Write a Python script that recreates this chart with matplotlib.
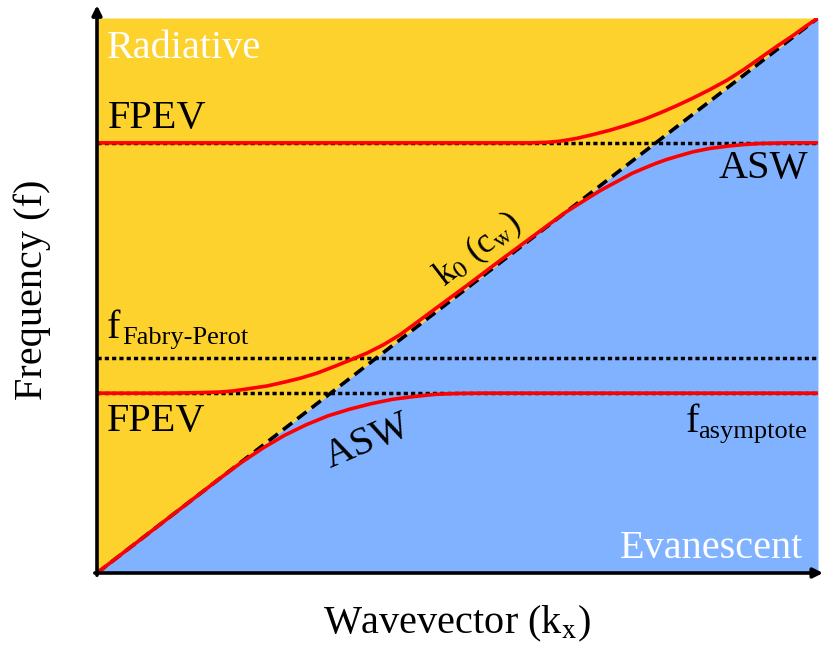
import matplotlib.pyplot as plt

plt.rcParams['font.family'] = ['Liberation Serif', 'DejaVu Serif']
plt.rcParams['mathtext.fontset'] = 'stix'

# light line k0 (c_w), normalised units
k_light = [0.0, 1.0]
f_light = [0.0, 1.0]

# horizontal reference levels
f_upper_cut = 0.775
f_fabry_perot = 0.387
f_asymptote = 0.324

# lower branch: follows the light line then saturates at f_asymptote (ASW)
asw_low_k = [0.0, 0.087, 0.143, 0.170, 0.200, 0.230, 0.260, 0.290, 0.320, 0.350, 0.380,
             0.410, 0.440, 0.470, 0.500, 0.530, 1.0]
asw_low_f = [0.0, 0.087, 0.143, 0.170, 0.199, 0.225, 0.248, 0.267, 0.283, 0.295, 0.305,
             0.313, 0.318, 0.322, 0.3235, 0.324, 0.324]

# middle branch: FPEV at f_asymptote, rides the light line, ends as upper ASW
mid_k = [0.0, 0.100, 0.143, 0.170, 0.189, 0.210, 0.236, 0.260, 0.282, 0.305, 0.327, 0.350,
         0.374, 0.397, 0.420, 0.443, 0.466, 0.512, 0.559, 0.605, 0.630, 0.650, 0.667, 0.683,
         0.698, 0.712, 0.725, 0.742, 0.760, 0.775, 0.790, 0.808, 0.827, 0.850, 0.874, 0.897,
         0.920, 0.961, 1.0]
mid_f = [0.324, 0.324, 0.325, 0.326, 0.328, 0.332, 0.337, 0.344, 0.351, 0.360, 0.371, 0.383,
         0.396, 0.411, 0.429, 0.451, 0.473, 0.517, 0.563, 0.607, 0.631, 0.650, 0.664, 0.677,
         0.689, 0.699, 0.708, 0.720, 0.730, 0.738, 0.745, 0.752, 0.759, 0.765, 0.769, 0.772,
         0.774, 0.775, 0.775]

# upper branch: FPEV that bends up into the light line
fpev_up_k = [0.0, 0.559, 0.600, 0.624, 0.642, 0.665, 0.688, 0.712, 0.735, 0.758, 0.781,
             0.804, 0.827, 0.850, 0.874, 0.897, 0.920, 0.943, 0.966, 0.983, 1.0]
fpev_up_f = [0.775, 0.775, 0.775, 0.776, 0.778, 0.783, 0.790, 0.798, 0.807, 0.817, 0.829,
             0.842, 0.856, 0.871, 0.888, 0.907, 0.928, 0.949, 0.969, 0.985, 1.0]

yellow = '#FDD22D'
blue = '#80B2FF'

fig = plt.figure(figsize=(8.22, 6.48), dpi=100)
ax = fig.add_axes([97 / 822, 75 / 648, 721 / 822, 555 / 648])
ax.set_xlim(0, 1)
ax.set_ylim(0, 1)

# radiative / evanescent regions
ax.fill_between(k_light, f_light, 1, color=yellow, lw=0, zorder=0)
ax.fill_between(k_light, 0, f_light, color=blue, lw=0, zorder=0)

# dotted reference levels
for lvl in (f_upper_cut, f_fabry_perot, f_asymptote):
    ax.plot([0, 1], [lvl, lvl], color='black', lw=2.5, linestyle=(0, (1.2, 0.9)), zorder=2)

# light line
ax.plot(k_light, f_light, color='black', lw=2.6, linestyle=(0, (3.2, 1.8)), zorder=2)

# dispersion branches
for kk, ff in ((asw_low_k, asw_low_f), (mid_k, mid_f), (fpev_up_k, fpev_up_f)):
    ax.plot(kk, ff, color='#FF0000', lw=2.6, solid_capstyle='round', solid_joinstyle='round',
            zorder=3)

# axes as arrows
for s in ax.spines.values():
    s.set_visible(False)
ax.set_xticks([])
ax.set_yticks([])
arrow = dict(arrowstyle='-|>', color='black', lw=2.6, mutation_scale=14, shrinkA=0, shrinkB=0)
ax.annotate('', xy=(0, 1.023), xytext=(0, -0.004), xycoords='axes fraction', arrowprops=arrow,
            annotation_clip=False)
ax.annotate('', xy=(1.007, 0), xytext=(-0.003, 0), xycoords='axes fraction', arrowprops=arrow,
            annotation_clip=False)

fs = 29
ax.text(0.014, 0.928, 'Radiative', color='white', fontsize=fs, va='baseline')
ax.text(0.979, 0.027, 'Evanescent', color='white', fontsize=fs, va='baseline', ha='right')
ax.text(0.015, 0.802, 'FPEV', fontsize=fs, va='baseline')
ax.text(0.014, 0.256, 'FPEV', fontsize=fs, va='baseline')
ax.text(0.986, 0.712, 'ASW', fontsize=fs, va='baseline', ha='right')
ax.text(0.376, 0.236, 'ASW', fontsize=fs, va='center', ha='center', rotation=23)
ax.text(0.482, 0.514, r'k$_0$ (c$_\mathrm{w}$)', fontsize=25, va='baseline', ha='left',
        rotation=37.6, rotation_mode='anchor')

# level labels
ax.text(0.014, 0.423, 'f', fontsize=fs, va='baseline')
ax.text(0.035, 0.413, 'Fabry-Perot', fontsize=19, va='baseline')
ax.text(0.816, 0.254, 'f', fontsize=fs, va='baseline')
ax.text(0.834, 0.243, 'asymptote', fontsize=19, va='baseline')

ax.text(0.499, -0.108, r'Wavevector (k$_\mathrm{x}$)', fontsize=29, ha='center', va='baseline')
ax.text(-0.090, 0.51, 'Frequency (f)', fontsize=29, ha='center', va='center', rotation=90)

fig.savefig('out.png', dpi=100)
